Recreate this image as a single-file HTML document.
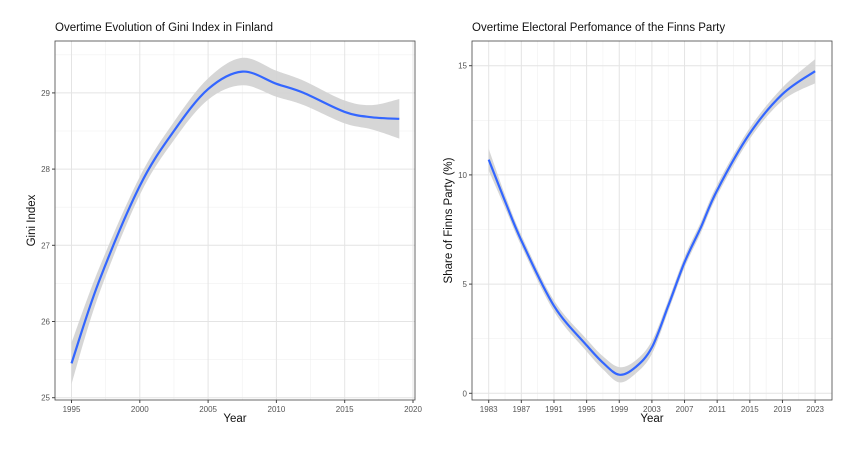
<!DOCTYPE html>
<html><head><meta charset="utf-8"><style>
body{margin:0;background:#fff;width:862px;height:447px;overflow:hidden}
svg{font-family:"Liberation Sans",Arial,sans-serif}
</style></head><body>
<svg id="s" width="862" height="447" xmlns="http://www.w3.org/2000/svg"></svg>
<script>
var s=document.getElementById('s');var h='';
function cr(pts){var d='M'+pts[0][0].toFixed(1)+','+pts[0][1].toFixed(1);
for(var i=0;i<pts.length-1;i++){var p0=pts[Math.max(0,i-1)],p1=pts[i],p2=pts[i+1],p3=pts[Math.min(pts.length-1,i+2)];
d+='C'+(p1[0]+(p2[0]-p0[0])/6).toFixed(1)+','+(p1[1]+(p2[1]-p0[1])/6).toFixed(1)+' '+(p2[0]-(p3[0]-p1[0])/6).toFixed(1)+','+(p2[1]-(p3[1]-p1[1])/6).toFixed(1)+' '+p2[0].toFixed(1)+','+p2[1].toFixed(1);}return d;}
function panel(o){
var x0=o.x0,x1=o.x1,y0=o.y0,y1=o.y1,X=o.X,Y=o.Y;
h+='<text x="'+x0+'" y="31" font-size="11.5" fill="#111">'+o.title+'</text>';
h+='<rect x="'+x0+'" y="'+y0+'" width="'+(x1-x0)+'" height="'+(y1-y0)+'" fill="#fff"/>';
o.xm.forEach(function(v){h+='<line x1="'+X(v)+'" x2="'+X(v)+'" y1="'+y0+'" y2="'+y1+'" stroke="#f0f0f0" stroke-width="0.6"/>';});
o.ym.forEach(function(v){h+='<line y1="'+Y(v)+'" y2="'+Y(v)+'" x1="'+x0+'" x2="'+x1+'" stroke="#f0f0f0" stroke-width="0.6"/>';});
o.xt.forEach(function(v){h+='<line x1="'+X(v)+'" x2="'+X(v)+'" y1="'+y0+'" y2="'+y1+'" stroke="#e4e4e4" stroke-width="1"/><line x1="'+X(v)+'" x2="'+X(v)+'" y1="'+y1+'" y2="'+(y1+3)+'" stroke="#444"/><text x="'+X(v)+'" y="'+(y1+12)+'" font-size="8" fill="#555" text-anchor="middle">'+v+'</text>';});
o.yt.forEach(function(v){h+='<line y1="'+Y(v)+'" y2="'+Y(v)+'" x1="'+x0+'" x2="'+x1+'" stroke="#e4e4e4" stroke-width="1"/><line y1="'+Y(v)+'" y2="'+Y(v)+'" x1="'+(x0-3)+'" x2="'+x0+'" stroke="#444"/><text x="'+(x0-5)+'" y="'+(Y(v)+3)+'" font-size="8" fill="#555" text-anchor="end">'+v+'</text>';});
var up=o.data.map(function(d){return [X(d[0]),Y(d[1]+d[2])];});
var lo=o.data.map(function(d){return [X(d[0]),Y(d[1]-d[2])];}).reverse();
var mid=o.data.map(function(d){return [X(d[0]),Y(d[1])];});
h+='<path d="'+cr(up)+' L'+cr(lo).slice(1)+' Z" fill="#d2d2d2" opacity="0.9"/>';
h+='<path d="'+cr(mid)+'" fill="none" stroke="#3366ff" stroke-width="2.2"/>';
h+='<rect x="'+x0+'" y="'+y0+'" width="'+(x1-x0)+'" height="'+(y1-y0)+'" fill="none" stroke="#444" stroke-width="0.8"/>';
h+='<text x="'+((x0+x1)/2)+'" y="'+(y1+22)+'" font-size="11.5" fill="#111" text-anchor="middle">Year</text>';
h+='<text x="0" y="0" font-size="11.5" fill="#111" text-anchor="middle" transform="translate('+o.ylx+','+((y0+y1)/2)+') rotate(-90)">'+o.ylab+'</text>';
}
panel({x0:55,x1:415,y0:41,y1:400,X:function(v){return 71.5+(v-1995)*13.66;},Y:function(v){return 397.7-(v-25)*76.2;},
xt:[1995,2000,2005,2010,2015,2020],yt:[25,26,27,28,29],xm:[1997.5,2002.5,2007.5,2012.5,2017.5],ym:[25.5,26.5,27.5,28.5,29.5],
data:[[1995,25.45,0.27],[1997,26.52,0.17],[2000,27.78,0.12],[2002.5,28.5,0.12],[2005,29.05,0.14],[2007.5,29.28,0.18],[2010,29.12,0.17],[2012,29.0,0.16],[2015,28.75,0.15],[2017,28.68,0.16],[2019,28.66,0.26]],
title:"Overtime Evolution of Gini Index in Finland",ylab:"Gini Index",ylx:35});
panel({x0:472,x1:832,y0:41,y1:400,X:function(v){return 488.7+(v-1983)*8.16;},Y:function(v){return 393.3-v*21.84;},
xt:[1983,1987,1991,1995,1999,2003,2007,2011,2015,2019,2023],yt:[0,5,10,15],xm:[1985,1989,1993,1997,2001,2005,2009,2013,2017,2021],ym:[2.5,7.5,12.5],
data:[[1983,10.7,0.5],[1985,8.8,0.3],[1987,7.0,0.25],[1991,4.0,0.25],[1995,2.2,0.28],[1997,1.4,0.3],[1999,0.85,0.35],[2001,1.2,0.3],[2003,2.1,0.3],[2005,4.0,0.25],[2007,6.0,0.25],[2009,7.6,0.25],[2011,9.3,0.25],[2015,11.9,0.25],[2019,13.7,0.3],[2023,14.75,0.55]],
title:"Overtime Electoral Perfomance of the Finns Party",ylab:"Share of Finns Party (%)",ylx:452});
s.innerHTML=h;
</script>
</body></html>
